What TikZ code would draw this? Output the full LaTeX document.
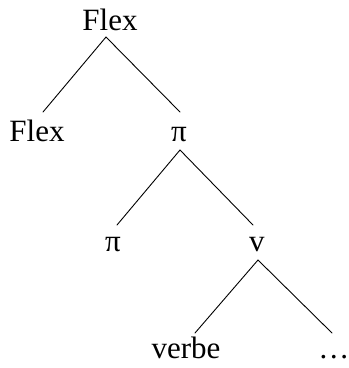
\documentclass[tikz,border=0pt]{standalone}
\usepackage{fontspec}
\setmainfont{Liberation Serif}
\begin{document}
\begin{tikzpicture}[x=1pt,y=-1pt,
  lbl/.style={anchor=base,inner sep=0pt,font=\fontsize{31}{36}\selectfont},
  edge/.style={line width=0.9pt,line cap=round}]
\useasboundingbox (0,0) rectangle (349,368);
\node[lbl] (top) at (110,30) {Flex};
\node[lbl] (fl) at (37,141) {Flex};
\node[lbl] (p1) at (179,141) {π};
\node[lbl] (p2) at (113,251) {π};
\node[lbl] (v) at (257,251) {v};
\node[lbl] (verbe) at (186,358) {verbe};
\node[lbl] (dots) at (334,358) {…};
\coordinate (top-s) at (106,37);
\coordinate (fl-n) at (43,112);
\coordinate (p1-n) at (180,112);
\coordinate (p1-s) at (180,150);
\coordinate (p2-n) at (117,225);
\coordinate (v-n) at (253,225);
\coordinate (v-s) at (258,260);
\coordinate (verbe-n) at (195,333);
\coordinate (dots-n) at (332,333);
\draw[edge] (fl-n) -- (top-s) -- (p1-n);
\draw[edge] (p2-n) -- (p1-s) -- (v-n);
\draw[edge] (verbe-n) -- (v-s) -- (dots-n);
\end{tikzpicture}
\end{document}
